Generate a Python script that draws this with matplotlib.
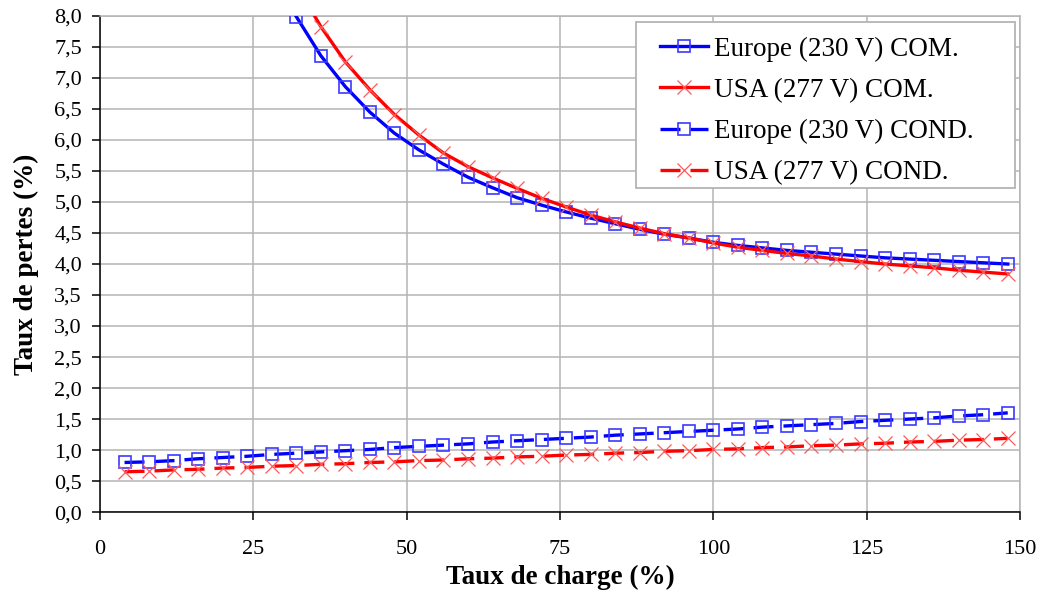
"""Taux de pertes en fonction du taux de charge (Europe 230 V / USA 277 V)."""
import matplotlib
matplotlib.use("Agg")
import matplotlib.pyplot as plt
from matplotlib.patches import Rectangle
from matplotlib.ticker import FuncFormatter, MultipleLocator

plt.rcParams["font.family"] = ["Liberation Serif", "DejaVu Serif"]

# taux de charge (%) -- points tous les 4 %
charge_com = [32, 36, 40, 44, 48, 52, 56, 60, 64, 68, 72, 76, 80, 84, 88,
              92, 96, 100, 104, 108, 112, 116, 120, 124, 128, 132, 136, 140, 144, 148]
charge_cond = [4, 8, 12, 16, 20, 24, 28] + charge_com

# pertes de commutation (%)
eu_com = [7.99, 7.36, 6.86, 6.45, 6.11, 5.84, 5.61, 5.40, 5.23, 5.07, 4.95, 4.84,
          4.74, 4.65, 4.56, 4.48, 4.42, 4.35, 4.30, 4.26, 4.22, 4.19, 4.16, 4.13,
          4.10, 4.08, 4.06, 4.04, 4.02, 4.00]
us_com = [8.50, 7.83, 7.26, 6.81, 6.41, 6.08, 5.79, 5.57, 5.39, 5.22, 5.06, 4.92,
          4.79, 4.68, 4.58, 4.49, 4.42, 4.34, 4.27, 4.22, 4.17, 4.13, 4.08, 4.04,
          4.00, 3.97, 3.94, 3.90, 3.87, 3.84]

# pertes de conduction (%)
eu_cond = [0.80, 0.81, 0.83, 0.86, 0.88, 0.90, 0.93, 0.95, 0.97, 0.99, 1.01, 1.04,
           1.06, 1.08, 1.10, 1.13, 1.15, 1.17, 1.19, 1.21, 1.24, 1.26, 1.28, 1.30,
           1.32, 1.34, 1.37, 1.39, 1.41, 1.43, 1.46, 1.48, 1.50, 1.52, 1.55, 1.57, 1.60]
us_cond = [0.65, 0.66, 0.68, 0.69, 0.71, 0.72, 0.74, 0.75, 0.77, 0.78, 0.80, 0.81,
           0.83, 0.84, 0.86, 0.87, 0.89, 0.90, 0.92, 0.93, 0.95, 0.96, 0.98, 0.99,
           1.01, 1.02, 1.04, 1.05, 1.07, 1.08, 1.10, 1.11, 1.13, 1.14, 1.16, 1.17, 1.19]

labels = ["Europe (230 V) COM.", "USA (277 V) COM.",
          "Europe (230 V) COND.", "USA (277 V) COND."]

BLUE, RED = "#0000FF", "#FF0000"
GRID = "#B4B4B4"

fig = plt.figure(figsize=(10.45, 5.92), dpi=100)
ax = fig.add_axes([0.0957, 0.135, 0.8804, 0.838])

sq = dict(marker="s", markersize=9, markerfacecolor="none",
          markeredgecolor="#3A3AFF", markeredgewidth=1.2)
cx = dict(marker="x", markersize=10, markeredgecolor="#FF5A5A", markeredgewidth=0.9)
dash = (0, (6, 3))

ax.plot(charge_com, eu_com, color=BLUE, lw=2.4, label=labels[0], zorder=3, **sq)
ax.plot(charge_com, us_com, color=RED, lw=2.4, label=labels[1], zorder=4, **cx)
ax.plot(charge_cond, eu_cond, color=BLUE, lw=2.4, ls=dash, label=labels[2], zorder=3, **sq)
ax.plot(charge_cond, us_cond, color=RED, lw=2.4, ls=dash, label=labels[3], zorder=4, **cx)

ax.set_xlim(0, 150)
ax.set_ylim(0, 8)
ax.xaxis.set_major_locator(MultipleLocator(25))
ax.yaxis.set_major_locator(MultipleLocator(0.5))
ax.yaxis.set_major_formatter(FuncFormatter(lambda v, p: f"{v:.1f}".replace(".", ",")))
ax.grid(True, color=GRID, lw=1.1, zorder=0)
ax.set_axisbelow(True)

for s in ("top", "right"):
    ax.spines[s].set_color(GRID)
    ax.spines[s].set_linewidth(1.1)
for s in ("left", "bottom"):
    ax.spines[s].set_color("black")
    ax.spines[s].set_linewidth(1.1)

ax.tick_params(axis="both", direction="out", length=6, width=1.1, labelsize=16, colors="black")
ax.tick_params(axis="x", pad=14)
ax.tick_params(axis="y", pad=7)

ax.set_xlabel("Taux de charge (%)", fontsize=19.5, fontweight="bold", labelpad=4)
ax.set_ylabel("Taux de pertes (%)", fontsize=19.5, fontweight="bold", labelpad=11)

# cadre de légende façon Excel (marges inégales)
ax.add_patch(Rectangle((0.5826, 0.6532), 0.412, 0.3347, transform=ax.transAxes,
                       facecolor="white", edgecolor=GRID, lw=1.3, zorder=5))
leg = ax.legend(loc="upper left", bbox_to_anchor=(0.6087, 0.958), borderaxespad=0,
                borderpad=0, fontsize=19.5, frameon=False,
                handlelength=1.78, handletextpad=0.22, labelspacing=0.59, numpoints=1)
leg.set_zorder(6)

fig.savefig("out.png", dpi=100, facecolor="white")
